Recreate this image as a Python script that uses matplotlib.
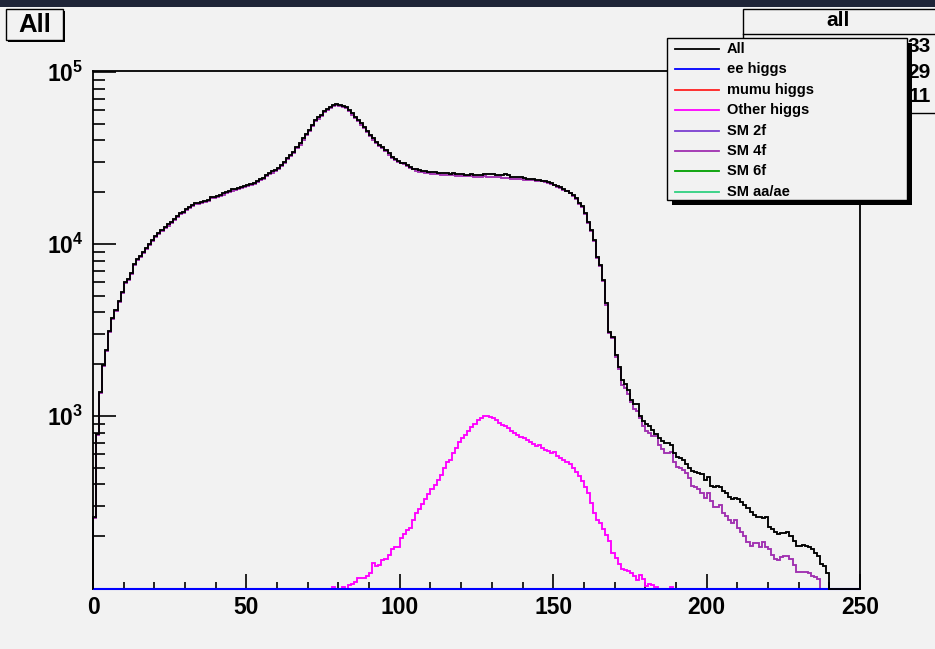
import numpy as np
import matplotlib
matplotlib.use("Agg")
import matplotlib.pyplot as plt
from matplotlib.ticker import MultipleLocator, FixedLocator, FuncFormatter, NullFormatter
from matplotlib.patches import Rectangle
from matplotlib.lines import Line2D

plt.rcParams['font.family'] = ['Liberation Sans', 'DejaVu Sans']
plt.rcParams['font.weight'] = 'bold'
plt.rcParams['mathtext.fontset'] = 'custom'
plt.rcParams['mathtext.rm'] = 'Liberation Sans:bold'
plt.rcParams['mathtext.bf'] = 'Liberation Sans:bold'
plt.rcParams['mathtext.it'] = 'Liberation Sans:bold'

# ---------------- data ----------------
n_bins = 250
bin_width = 1.0
x_range = (0, 250)
y_range = (98.6, 101400)
x_ticks = [0, 50, 100, 150, 200, 250]
y_decades = [3, 4, 5]

all_counts = [
    260, 785, 1385, 1983, 2420, 3120, 3700, 4130, 4680, 5280,
    6040, 6250, 6760, 7630, 8150, 8520, 9020, 9440, 9960, 10550,
    11130, 11640, 12050, 12500, 13000, 13500, 14000, 14500, 15080, 15350,
    15910, 16340, 16860, 17240, 17400, 17550, 17780, 18020, 18680, 18840,
    19100, 19270, 19700, 20060, 20330, 20790, 20970, 21160, 21540, 21740,
    22030, 22230, 22730, 23350, 23770, 24190, 25180, 25980, 26450, 26920,
    27780, 28790, 29840, 31490, 32920, 34420, 36480, 38470, 41140, 43600,
    46010, 49200, 52590, 54500, 56230, 59600, 60950, 62880, 64300, 65160,
    64570, 63740, 62330, 60130, 57500, 55000, 52590, 50290, 47680, 45190,
    43020, 41140, 39350, 37630, 36480, 35200, 33660, 32200, 31200, 30380,
    29710, 29440, 28790, 28150, 27420, 27170, 26810, 26690, 26450, 26210,
    26100, 26210, 25980, 25860, 25860, 25750, 25630, 25750, 25530, 25530,
    25410, 25290, 25180, 25410, 25180, 25060, 25060, 25530, 25530, 25410,
    25410, 25290, 25180, 25180, 25530, 25060, 24640, 24530, 24530, 24420,
    24310, 23980, 23770, 23770, 23660, 23560, 23350, 23140, 22940, 22530,
    22030, 21740, 21350, 20880, 20420, 19880, 19180, 18430, 17400, 16600,
    15200, 13480, 12060, 10550, 8440, 7550, 6175, 4520, 3093, 2892,
    2263, 1936, 1620, 1535, 1416, 1239, 1174, 1174, 1000, 935,
    899, 875, 829, 786, 745, 716, 697, 697, 678, 609,
    577, 570, 555, 526, 498, 481, 472, 464, 458, 424,
    444, 392, 385, 392, 388, 368, 355, 340, 329, 332,
    329, 316, 304, 290, 278, 266, 258, 260, 254, 258,
    227, 219, 212, 206, 208, 210, 212, 201, 188, 175,
    175, 178, 176, 172, 168, 160, 153, 138, 134, 122,
]

sm4f_counts = [
    255, 775, 1360, 1950, 2380, 3070, 3640, 4060, 4600, 5200,
    5950, 6150, 6650, 7500, 8020, 8390, 8880, 9300, 9810, 10390,
    10960, 11460, 11870, 12310, 12800, 13300, 13790, 14280, 14850, 15120,
    15670, 16090, 16600, 16980, 17140, 17280, 17510, 17750, 18400, 18550,
    18810, 18980, 19400, 19760, 20020, 20470, 20650, 20840, 21210, 21410,
    21700, 21890, 22390, 23000, 23410, 23820, 24800, 25590, 26050, 26510,
    27360, 28360, 29390, 31010, 32420, 33900, 35930, 37890, 40520, 42940,
    45320, 48460, 51800, 53680, 55380, 58700, 60030, 61930, 63330, 64180,
    63600, 62780, 61390, 59220, 56630, 54170, 51800, 49530, 46960, 44510,
    42370, 40520, 38750, 37060, 35930, 34670, 33150, 31710, 30730, 29920,
    29440, 29050, 28410, 27780, 27170, 26570, 26330, 26100, 25860, 25750,
    25630, 25530, 25410, 25290, 25290, 25180, 25060, 25060, 24960, 24960,
    24850, 24850, 24740, 24740, 24640, 24640, 24640, 24740, 24640, 24530,
    24530, 24420, 24420, 24310, 24200, 24090, 23980, 23880, 23770, 23770,
    23660, 23560, 23450, 23450, 23350, 23240, 23140, 22940, 22630, 22330,
    21940, 21540, 21160, 20690, 20240, 19700, 19010, 18270, 17100, 16400,
    14950, 13300, 11900, 10400, 8330, 7420, 6060, 4430, 3040, 2830,
    2210, 1880, 1514, 1455, 1343, 1206, 1098, 1069, 974, 875,
    818, 796, 765, 765, 678, 643, 610, 613, 617, 540,
    505, 495, 486, 466, 436, 392, 388, 375, 358, 332,
    358, 322, 297, 294, 304, 274, 262, 248, 240, 248,
    222, 212, 201, 186, 175, 182, 183, 174, 186, 174,
    168, 156, 148, 146, 152, 154, 153, 147, 136, 123,
    123, 124, 124, 122, 117, 116, 112,
]

other_higgs_first_bin = 76
other_higgs_counts = [
    0, 0, 101, 0, 0, 101, 0, 104, 106, 109,
    115, 114, 115, 117, 122, 139, 135, 136, 146, 148,
    156, 169, 173, 174, 194, 205, 216, 222, 249, 272,
    288, 307, 329, 351, 376, 397, 423, 454, 496, 538,
    553, 607, 655, 703, 742, 776, 818, 863, 902, 952,
    978, 1000, 1005, 991, 969, 944, 915, 887, 871, 848,
    818, 797, 776, 755, 742, 722, 703, 684, 666, 678,
    655, 634, 626, 607, 620, 588, 573, 555, 538, 524,
    501, 475, 450, 419, 388, 355, 311, 272, 249, 238,
    220, 202, 188, 159, 150, 137, 129, 127, 126, 122,
    118, 111, 119, 113, 102, 105, 104, 101, 0, 0,
    0, 0, 101,
]

ee_higgs_counts = [0] * n_bins

legend_labels = ['All', 'ee higgs', 'mumu higgs', 'Other higgs',
                 'SM 2f', 'SM 4f', 'SM 6f', 'SM aa/ae']
legend_colors = ['#000000', '#0000ff', '#ff2020', '#ff00ff',
                 '#7b3fd0', '#a030b0', '#00a000', '#30d080']

title_text = 'All'
stats_title = 'all'
stats_visible = ['33', '29', '11']

# ---------------- helpers ----------------
def full(counts, first=0):
    arr = np.zeros(n_bins)
    arr[first:first + len(counts)] = counts
    return np.maximum(arr, y_range[0])

edges = x_range[0] + bin_width * np.arange(n_bins + 1)

BG = '#f2f2f2'
W, H = 935, 649
fig = plt.figure(figsize=(W / 100, H / 100), dpi=100, facecolor=BG)

L, R, T, B = 93, 860, 71, 589
ax = fig.add_axes([L / W, 1 - B / H, (R - L) / W, (B - T) / H])
ax.set_facecolor(BG)
ax.set_yscale('log')
ax.set_xlim(*x_range)
ax.set_ylim(*y_range)

kw = dict(baseline=y_range[0], fill=False, clip_on=False)
ax.stairs(full(sm4f_counts), edges, color=legend_colors[5], lw=1.35, zorder=2, **kw)
ax.stairs(full(other_higgs_counts, other_higgs_first_bin), edges,
          color=legend_colors[3], lw=1.35, zorder=3, **kw)
ax.stairs(full(ee_higgs_counts), edges, color=legend_colors[1], lw=1.5, zorder=4, **kw)
ax.stairs(full(all_counts), edges, color=legend_colors[0], lw=1.35, zorder=5, **kw)

# axes styling
for s in ax.spines.values():
    s.set_linewidth(1.3)
    s.set_color('black')
ax.xaxis.set_major_locator(FixedLocator(x_ticks))
ax.xaxis.set_minor_locator(MultipleLocator(10))
ax.yaxis.set_major_locator(FixedLocator([10.0 ** d for d in y_decades]))
ax.yaxis.set_minor_locator(FixedLocator([m * 10.0 ** d for d in (2, 3, 4) for m in range(2, 10)]))
ax.yaxis.set_major_formatter(FuncFormatter(lambda v, p: r'$\mathbf{10^{%d}}$' % round(np.log10(v))))
ax.yaxis.set_minor_formatter(NullFormatter())
ax.tick_params(axis='x', which='major', direction='in', length=10.8, width=1.2,
               labelsize=16.5, pad=5, top=False)
ax.tick_params(axis='x', which='minor', direction='in', length=5.4, width=1.2, top=False)
ax.tick_params(axis='y', which='major', direction='in', length=16.6, width=1.2,
               labelsize=16.5, pad=7, right=False)
ax.tick_params(axis='y', which='minor', direction='in', length=8.3, width=1.2, right=False)
for lab in ax.get_xticklabels():
    lab.set_fontweight('bold')

# ---------------- overlay (pixel coords) ----------------
ov = fig.add_axes([0, 0, 1, 1], zorder=10)
ov.set_xlim(0, W)
ov.set_ylim(H, 0)
ov.axis('off')

# top dark bar
ov.add_patch(Rectangle((0, 0), W, 7, color='#1f2538', lw=0))

# title box "All"
ov.add_patch(Rectangle((8, 11), 57, 31, facecolor='black', lw=0))
ov.add_patch(Rectangle((6, 9), 57, 31, facecolor=BG, edgecolor='black', lw=1.0))
ov.text(34.5, 25, title_text, fontsize=18.5, fontweight='bold', ha='center', va='center')

# stats box
ov.add_patch(Rectangle((743, 9), 200, 104, facecolor=BG, edgecolor='black', lw=1.0))
ov.plot([743, 935], [34, 34], color='black', lw=1.0)
ov.text(838, 21, stats_title, fontsize=15, fontweight='bold', ha='center', va='center')
for i, s in enumerate(stats_visible):
    ov.text(931, 47 + 25 * i, s, fontsize=15, fontweight='bold', ha='right', va='center')

# legend box
lx0, ly0, lx1, ly1 = 667, 38, 907, 200
ov.add_patch(Rectangle((lx0 + 5, ly0 + 5), lx1 - lx0, ly1 - ly0, facecolor='black', lw=0, zorder=3))
ov.add_patch(Rectangle((lx0, ly0), lx1 - lx0, ly1 - ly0, facecolor=BG, edgecolor='black',
                       lw=1.0, zorder=4))
for i, (lab, col) in enumerate(zip(legend_labels, legend_colors)):
    y = 49 + 20.4 * i
    ov.add_line(Line2D([675, 719], [y, y], color=col, lw=1.3, zorder=5))
    ov.text(727, y, lab, fontsize=10.5, fontweight='bold', ha='left', va='center', zorder=5)

fig.savefig('out.png', dpi=100, facecolor=BG)
